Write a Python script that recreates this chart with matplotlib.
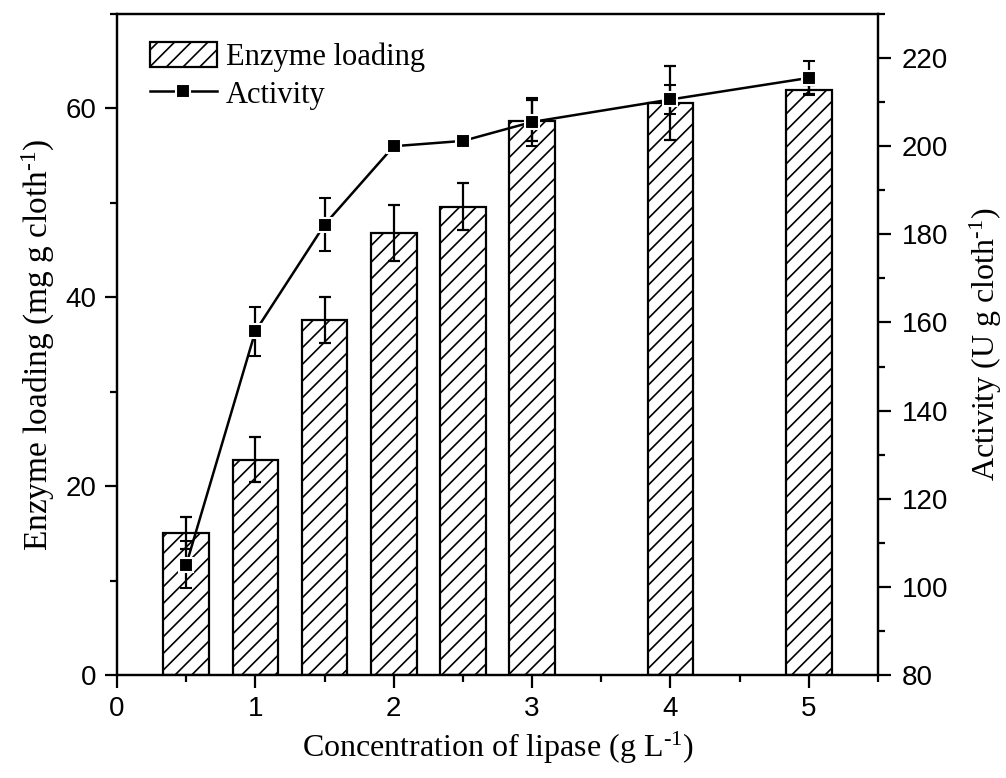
import matplotlib
matplotlib.use("Agg")
import matplotlib.pyplot as plt
from matplotlib.ticker import MultipleLocator
from matplotlib.patches import Patch
from matplotlib.lines import Line2D

# Data
conc = [0.5, 1, 1.5, 2, 2.5, 3, 4, 5]
loading = [15.0, 22.8, 37.6, 46.8, 49.6, 58.7, 60.6, 62.0]
loading_err = [1.7, 2.4, 2.4, 3.0, 2.5, 2.2, 3.9, 0.5]
activity = [105.0, 158.0, 182.2, 200.0, 201.2, 205.5, 210.6, 215.5]
activity_err = [5.3, 5.6, 6.0, 1.0, 1.0, 5.5, 3.3, 3.9]

serif = "Liberation Serif"
sans = "Liberation Sans"
plt.rcParams["mathtext.fontset"] = "custom"
plt.rcParams["mathtext.rm"] = serif
plt.rcParams["mathtext.it"] = serif + ":italic"
plt.rcParams["hatch.linewidth"] = 1.2
plt.rcParams["font.family"] = sans

fig = plt.figure(figsize=(10.06, 7.78), dpi=100)
ax = fig.add_axes([0.1163, 0.1324, 0.8728 - 0.1163, 0.982 - 0.1324])
ax2 = ax.twinx()

# Bars (left axis)
ax.bar(conc, loading, width=0.33, facecolor="white", edgecolor="black",
       linewidth=1.6, hatch="//", zorder=2)
ax.errorbar(conc, loading, yerr=loading_err, fmt="none", ecolor="black",
            elinewidth=1.6, capsize=4.5, capthick=1.6, zorder=3)

# Activity line (right axis)
ax2.errorbar(conc, activity, yerr=activity_err, fmt="-s", color="black",
             linewidth=1.8, markersize=10.5, markerfacecolor="black",
             markeredgecolor="white", markeredgewidth=1.5,
             elinewidth=1.6, capsize=4.5, capthick=1.6, zorder=4)

ax.set_xlim(0, 5.5)
ax.set_ylim(0, 70)
ax2.set_ylim(80, 230)

ax.xaxis.set_major_locator(MultipleLocator(1))
ax.xaxis.set_minor_locator(MultipleLocator(0.5))
ax.yaxis.set_major_locator(MultipleLocator(20))
ax.yaxis.set_minor_locator(MultipleLocator(10))
ax2.yaxis.set_major_locator(MultipleLocator(20))
ax2.yaxis.set_minor_locator(MultipleLocator(10))

for a in (ax, ax2):
    for s in a.spines.values():
        s.set_linewidth(1.6)
    a.tick_params(which="major", direction="out", length=9, width=1.6,
                  labelsize=20, pad=6)
    a.tick_params(which="minor", direction="out", length=5, width=1.6)
ax.tick_params(axis="x", which="both", top=False)
ax2.tick_params(axis="y", which="major", pad=8)

for lab in ax.get_xticklabels() + ax.get_yticklabels() + ax2.get_yticklabels():
    lab.set_fontfamily(sans)

ax.set_xlabel(r"Concentration of lipase (g L$^{\text{-1}}$)",
              fontsize=23, fontfamily=serif, labelpad=6)
ax.set_ylabel(r"Enzyme loading (mg g cloth$^{\text{-1}}$)",
              fontsize=24, fontfamily=serif, labelpad=6)
ax2.set_ylabel(r"Activity (U g cloth$^{\text{-1}}$)",
               fontsize=23, fontfamily=serif, labelpad=14)

# Legend
handles = [
    Patch(facecolor="white", edgecolor="black", hatch="//", linewidth=1.6),
    Line2D([], [], color="black", marker="s", markersize=10.5,
           markeredgecolor="white", markeredgewidth=1.5, linewidth=1.8),
]
ax2.legend(handles, ["Enzyme loading", "Activity"], loc="upper left",
           bbox_to_anchor=(0.015, 0.99), frameon=False,
           prop={"family": serif, "size": 22}, handlelength=2.2,
           handleheight=0.9, handletextpad=0.3, labelspacing=0.25,
           borderaxespad=0.3)

fig.savefig("out.png", dpi=100)
